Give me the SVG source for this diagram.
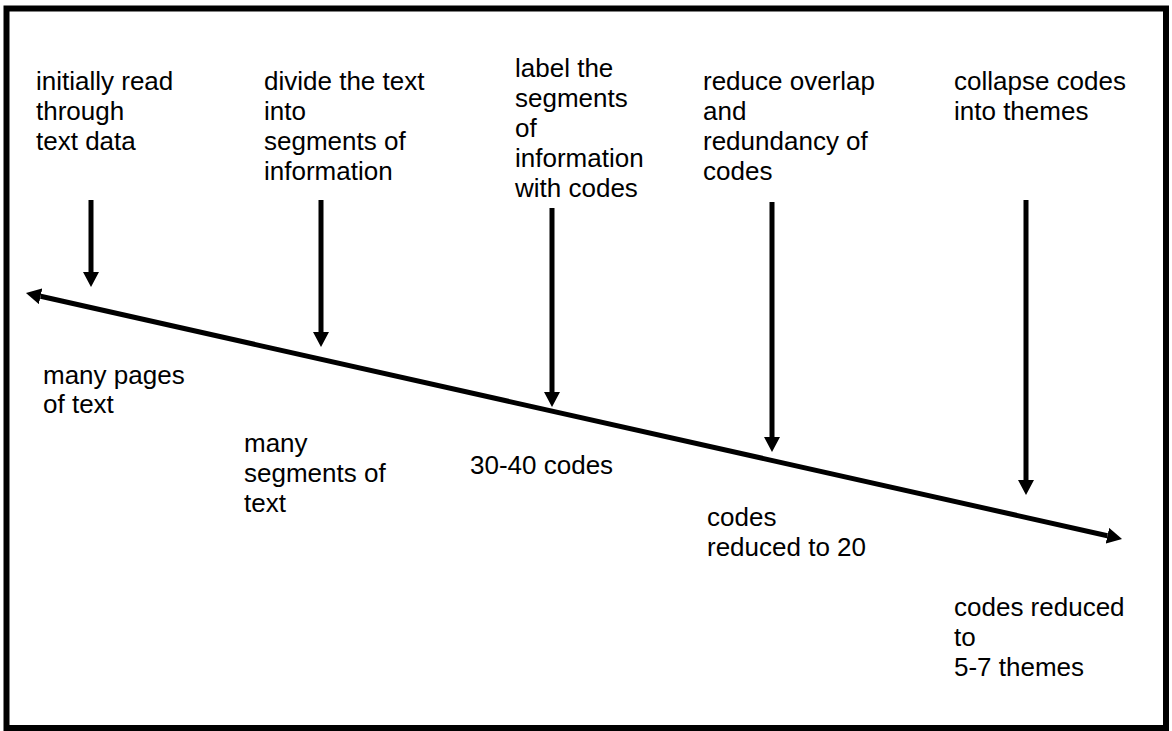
<svg xmlns="http://www.w3.org/2000/svg" width="1172" height="731" viewBox="0 0 1172 731">
  <style>
    .lbl { font-family: "Liberation Sans", Arial, sans-serif; font-size: 26px; fill: #000; }
    .frame { fill: #fff; stroke: #000; stroke-width: 6; }
    .shaft { stroke: #000; stroke-width: 5; fill: none; }
  </style>
  <defs>
    <marker id="head" markerUnits="userSpaceOnUse" markerWidth="16" markerHeight="17" refX="0" refY="8" orient="auto-start-reverse" viewBox="0 0 16 17">
      <path d="M0,0 L15,8 L0,16 Z" fill="#000"/>
    </marker>
  </defs>

  <!-- outer frame -->
  <rect class="frame" x="6.5" y="8.5" width="1159.5" height="719.5"/>

  <!-- connectors: the timeline and the five step arrows -->
  <g id="connectors">
    <line class="shaft" x1="40.6" y1="296.3" x2="1107.4" y2="535.7" marker-start="url(#head)" marker-end="url(#head)"/>
    <line class="shaft" x1="91" y1="200" x2="91" y2="272" marker-end="url(#head)"/>
    <line class="shaft" x1="321" y1="200" x2="321" y2="332" marker-end="url(#head)"/>
    <line class="shaft" x1="552" y1="208" x2="552" y2="392" marker-end="url(#head)"/>
    <line class="shaft" x1="772" y1="202" x2="772" y2="437" marker-end="url(#head)"/>
    <line class="shaft" x1="1026" y1="200" x2="1026" y2="480" marker-end="url(#head)"/>
  </g>

  <!-- steps above the timeline -->
  <g id="step-read">
    <text class="lbl" x="36" y="90">initially read<tspan x="36" dy="30">through</tspan><tspan x="36" dy="30">text data</tspan></text>
  </g>
  <g id="step-divide">
    <text class="lbl" x="264" y="90">divide the text<tspan x="264" dy="30">into</tspan><tspan x="264" dy="30">segments of</tspan><tspan x="264" dy="30">information</tspan></text>
  </g>
  <g id="step-label">
    <text class="lbl" x="515" y="77">label the<tspan x="515" dy="30">segments</tspan><tspan x="515" dy="30">of</tspan><tspan x="515" dy="30">information</tspan><tspan x="515" dy="30">with codes</tspan></text>
  </g>
  <g id="step-reduce">
    <text class="lbl" x="703" y="90">reduce overlap<tspan x="703" dy="30">and</tspan><tspan x="703" dy="30">redundancy of</tspan><tspan x="703" dy="30">codes</tspan></text>
  </g>
  <g id="step-collapse">
    <text class="lbl" x="954" y="90">collapse codes<tspan x="954" dy="30">into themes</tspan></text>
  </g>

  <!-- results below the timeline -->
  <g id="result-pages">
    <text class="lbl" x="43" y="384">many pages<tspan x="43" dy="29">of text</tspan></text>
  </g>
  <g id="result-segments">
    <text class="lbl" x="244" y="452">many<tspan x="244" dy="30">segments of</tspan><tspan x="244" dy="30">text</tspan></text>
  </g>
  <g id="result-codes">
    <text class="lbl" x="470" y="474">30-40 codes</text>
  </g>
  <g id="result-20">
    <text class="lbl" x="707" y="526">codes<tspan x="707" dy="30">reduced to 20</tspan></text>
  </g>
  <g id="result-themes">
    <text class="lbl" x="954" y="616">codes reduced<tspan x="954" dy="30">to</tspan><tspan x="954" dy="30">5-7 themes</tspan></text>
  </g>
</svg>
